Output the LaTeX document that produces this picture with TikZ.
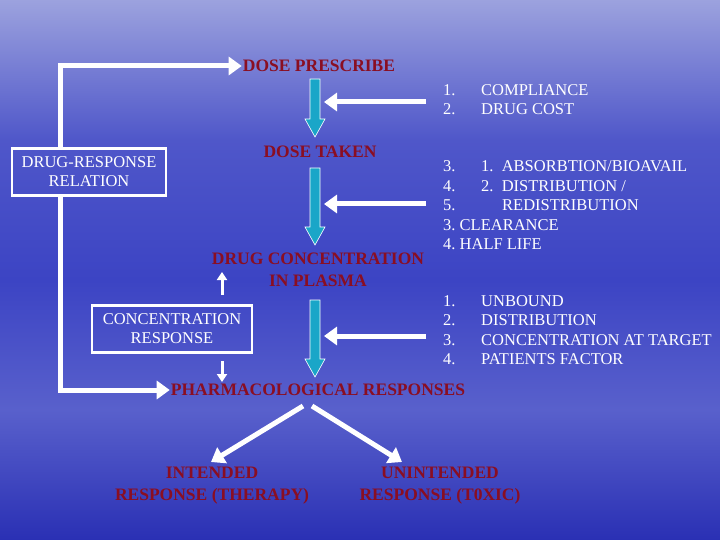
\documentclass[tikz,border=0pt]{standalone}
\usepackage{fontspec}
\setmainfont{Liberation Serif}
\usetikzlibrary{arrows.meta}
\definecolor{bgtop}{HTML}{9CA2DE}
\definecolor{bgmid}{HTML}{3C44C4}
\definecolor{bgbot}{HTML}{2A30B4}
\definecolor{headred}{HTML}{8A0E22}
\definecolor{flowcyan}{HTML}{1AA6C8}
\tikzset{
  head/.style={text=headred, font=\bfseries\fontsize{17.5}{22}\selectfont, align=center, inner sep=1pt},
  info/.style={text=white, font=\fontsize{16.5}{19}\selectfont, anchor=west, inner sep=1pt},
  whitebox/.style={draw=white, line width=2.5pt, text=white, align=center,
    font=\fontsize{16.5}{19}\selectfont, minimum width=154pt, minimum height=47pt},
  feed/.style={white, line width=5pt, -{Triangle[length=13pt, width=18pt]}},
  thin/.style={white, line width=3pt, -{Triangle[length=8pt, width=10pt]}},
  flow/.style={draw=white, line width=0.6pt, fill=flowcyan}
}
\newcommand{\flowarrow}[3]{% x, top, tip
  \filldraw[flow] (#1-5,#2) -- (#1+5,#2) -- (#1+5,#3-18) -- (#1+10,#3-18)
    -- (#1,#3) -- (#1-10,#3-18) -- (#1-5,#3-18) -- cycle;}
\begin{document}
\begin{tikzpicture}[x=1pt,y=-1pt]
  \shade[top color=bgtop, bottom color=bgmid, middle color=bgmid!80!bgtop]
    (0,0) rectangle (720,280);
  \shade[top color=bgmid, bottom color=bgbot, middle color=bgmid!70!bgtop]
    (0,280) rectangle (720,540);
  \useasboundingbox (0,0) rectangle (720,540);

  % main chain
  \node[head] (prescribe) at (319,66) {DOSE PRESCRIBE};
  \node[head] (taken) at (320,152) {DOSE TAKEN};
  \node[head] (plasma) at (318,270) {DRUG CONCENTRATION\\IN PLASMA};
  \node[head] (pharma) at (318,390) {PHARMACOLOGICAL RESPONSES};
  \node[head] (intended) at (212,486) {INTENDED\\RESPONSE (THERAPY)};
  \node[head] (unintended) at (440,486) {UNINTENDED\\RESPONSE (T0XIC)};

  \flowarrow{315}{79}{137}
  \flowarrow{315}{168}{245}
  \flowarrow{315}{300}{377}

  % relation boxes
  \node[whitebox] (relation) at (89,172) {DRUG-RESPONSE\\RELATION};
  \node[whitebox, minimum width=160pt] (concresp) at (172,329) {CONCENTRATION\\RESPONSE};

  \draw[feed] (60,148.5) |- (prescribe.west);
  \draw[feed] (60,195.5) |- (pharma.west);
  \draw[thin] (222,295) -- (222,272);
  \draw[thin] (222,361) -- (222,382);

  % factors
  \coordinate (f1) at (426,102);
  \coordinate (f2) at (426,204);
  \coordinate (f3) at (426,336);
  \draw[feed] (f1) -- (324,102);
  \draw[feed] (f2) -- (324,204);
  \draw[feed] (f3) -- (324,336);

  \node[info] (c1) at (442,90) {1.};
  \node[info] (c2) at (442,109) {2.};
  \node[info] (t1) at (480,90) {COMPLIANCE};
  \node[info] (t2) at (480,109) {DRUG COST};

  \node[info] (k3) at (442,166) {3.};
  \node[info] (k4) at (442,186) {4.};
  \node[info] (k5) at (442,205) {5.};
  \node[info] (u1) at (480,166) {1.\ \ ABSORBTION/BIOAVAIL};
  \node[info] (u2) at (480,186) {2.\ \ DISTRIBUTION /};
  \node[info] (u3) at (501,205) {REDISTRIBUTION};
  \node[info] (u4) at (442,225) {3.\ CLEARANCE};
  \node[info] (u5) at (442,244) {4.\ HALF LIFE};

  \node[info] (p1) at (442,301) {1.};
  \node[info] (p2) at (442,320) {2.};
  \node[info] (p3) at (442,340) {3.};
  \node[info] (p4) at (442,359) {4.};
  \node[info] (q1) at (480,301) {UNBOUND};
  \node[info] (q2) at (480,320) {DISTRIBUTION};
  \node[info] (q3) at (480,340) {CONCENTRATION AT TARGET};
  \node[info] (q4) at (480,359) {PATIENTS FACTOR};

  % outcomes
  \draw[feed] (303,406) -- (211,462);
  \draw[feed] (312,406) -- (402,462);
\end{tikzpicture}
\end{document}
